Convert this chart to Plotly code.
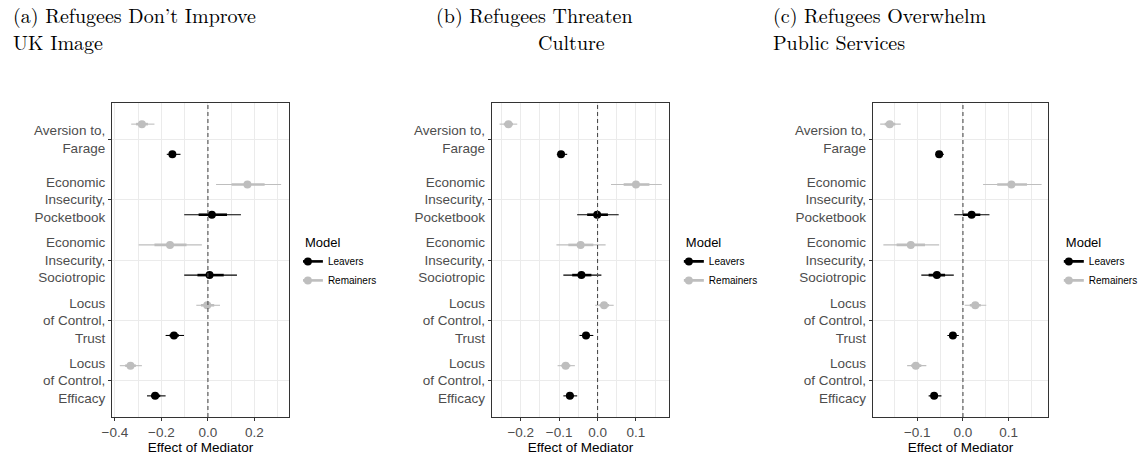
import plotly.graph_objects as go

# Mediator labels, top to bottom
categories = [
    "Aversion to,<br>Farage",
    "Economic<br>Insecurity,<br>Pocketbook",
    "Economic<br>Insecurity,<br>Sociotropic",
    "Locus<br>of Control,<br>Trust",
    "Locus<br>of Control,<br>Efficacy",
]
cat_pos = [5, 4, 3, 2, 1]

panel_titles = [
    ("(a) Refugees Don\u2019t Improve", "UK Image"),
    ("(b) Refugees Threaten", "Culture"),
    ("(c) Refugees Overwhelm", "Public Services"),
]

# (a) Refugees Don't Improve UK Image
leave_est_a = [-0.153, 0.017, 0.007, -0.146, -0.227]
leave_lo95_a = [-0.177, -0.102, -0.102, -0.182, -0.262]
leave_hi95_a = [-0.118, 0.142, 0.125, -0.103, -0.182]
leave_lo68_a = [-0.165, -0.040, -0.045, -0.165, -0.245]
leave_hi68_a = [-0.140, 0.082, 0.068, -0.125, -0.205]
remain_est_a = [-0.284, 0.170, -0.163, -0.003, -0.333]
remain_lo95_a = [-0.330, 0.035, -0.298, -0.050, -0.379]
remain_hi95_a = [-0.230, 0.315, -0.026, 0.052, -0.284]
remain_lo68_a = [-0.309, 0.102, -0.230, -0.030, -0.356]
remain_hi68_a = [-0.258, 0.244, -0.092, 0.027, -0.310]

# (b) Refugees Threaten Culture
leave_est_b = [-0.095, -0.001, -0.042, -0.030, -0.072]
leave_lo95_b = [-0.106, -0.053, -0.089, -0.047, -0.089]
leave_hi95_b = [-0.079, 0.055, 0.010, -0.011, -0.053]
leave_lo68_b = [-0.101, -0.027, -0.066, -0.039, -0.081]
leave_hi68_b = [-0.087, 0.027, -0.016, -0.021, -0.062]
remain_est_b = [-0.232, 0.100, -0.044, 0.017, -0.083]
remain_lo95_b = [-0.255, 0.035, -0.107, -0.006, -0.104]
remain_hi95_b = [-0.209, 0.167, 0.021, 0.042, -0.059]
remain_lo68_b = [-0.244, 0.068, -0.076, 0.005, -0.094]
remain_hi68_b = [-0.220, 0.135, -0.011, 0.030, -0.071]

# (c) Refugees Overwhelm Public Services
leave_est_c = [-0.052, 0.019, -0.057, -0.022, -0.063]
leave_lo95_c = [-0.060, -0.019, -0.091, -0.034, -0.075]
leave_hi95_c = [-0.042, 0.058, -0.020, -0.009, -0.047]
leave_lo68_c = [-0.056, 0.000, -0.075, -0.028, -0.069]
leave_hi68_c = [-0.047, 0.038, -0.039, -0.015, -0.055]
remain_est_c = [-0.160, 0.106, -0.114, 0.027, -0.103]
remain_lo95_c = [-0.181, 0.044, -0.174, 0.004, -0.122]
remain_hi95_c = [-0.136, 0.172, -0.052, 0.051, -0.080]
remain_lo68_c = [-0.171, 0.075, -0.145, 0.015, -0.113]
remain_hi68_c = [-0.148, 0.140, -0.083, 0.039, -0.091]

x_ranges = [[-0.413, 0.349], [-0.275, 0.186], [-0.197, 0.186]]
x_major = [0.2, 0.1, 0.1]
x_minor = [0.1, 0.05, 0.05]

models = ["Leavers", "Remainers"]
model_colors = {"Leavers": "#000000", "Remainers": "#BEBEBE"}
model_offset = {"Leavers": -0.25, "Remainers": 0.25}

panels = [
    {
        "Leavers": (leave_est_a, leave_lo95_a, leave_hi95_a, leave_lo68_a, leave_hi68_a),
        "Remainers": (remain_est_a, remain_lo95_a, remain_hi95_a, remain_lo68_a, remain_hi68_a),
    },
    {
        "Leavers": (leave_est_b, leave_lo95_b, leave_hi95_b, leave_lo68_b, leave_hi68_b),
        "Remainers": (remain_est_b, remain_lo95_b, remain_hi95_b, remain_lo68_b, remain_hi68_b),
    },
    {
        "Leavers": (leave_est_c, leave_lo95_c, leave_hi95_c, leave_lo68_c, leave_hi68_c),
        "Remainers": (remain_est_c, remain_lo95_c, remain_hi95_c, remain_lo68_c, remain_hi68_c),
    },
]

W, H = 1143, 455
SANS = "Liberation Sans, Arial, sans-serif"
SERIF = "Latin Modern Roman, CMU Serif, Liberation Serif, serif"

# plot areas in pixels: (left, right), shared top/bottom
panel_px = [(103, 282), (487, 666), (872, 1049)]
top_px, bottom_px = 103, 417
legend_px = [298, 683, 1067]
title_px = [(2, 2), (430, 533), (770, 770)]
title_rows = (15, 41)


def px_x(v):
    return v / W


def px_y(v):
    return 1 - v / H


def segments(lo, hi, ys):
    xs, yy = [], []
    for a, b, y in zip(lo, hi, ys):
        xs += [a, b, None]
        yy += [y, y, None]
    return xs, yy


fig = go.Figure()

for i, pdata in enumerate(panels):
    ax = "" if i == 0 else str(i + 1)
    xref, yref = "x" + ax, "y" + ax
    for m in ["Remainers", "Leavers"]:
        est, lo95, hi95, lo68, hi68 = pdata[m]
        ys = [p + model_offset[m] for p in cat_pos]
        col = model_colors[m]
        sx, sy = segments(lo95, hi95, ys)
        fig.add_trace(go.Scatter(x=sx, y=sy, mode="lines", xaxis=xref, yaxis=yref,
                                 line=dict(color=col, width=1.1), showlegend=False,
                                 hoverinfo="skip"))
        tx, ty = segments(lo68, hi68, ys)
        fig.add_trace(go.Scatter(x=tx, y=ty, mode="lines", xaxis=xref, yaxis=yref,
                                 line=dict(color=col, width=2.6), showlegend=False,
                                 hoverinfo="skip"))
        fig.add_trace(go.Scatter(x=est, y=ys, mode="markers", xaxis=xref, yaxis=yref,
                                 marker=dict(color=col, size=8, line=dict(width=0)),
                                 showlegend=False, name=m))
    # legend keys for this panel
    for m in models:
        fig.add_trace(go.Scatter(x=[None], y=[None], mode="lines+markers", name=m,
                                 xaxis=xref, yaxis=yref,
                                 line=dict(color=model_colors[m], width=2.6),
                                 marker=dict(color=model_colors[m], size=8),
                                 legend="legend" + ("" if i == 0 else str(i + 1)),
                                 showlegend=True))

    # zero reference line
    fig.add_shape(type="line", xref=xref, yref=yref + " domain", x0=0, x1=0, y0=0, y1=1,
                  line=dict(color="#4D4D4D", width=1.1, dash="4px,3px"), layer="above")

    left, right = panel_px[i]
    fig.update_layout(**{
        "xaxis" + ax: dict(
            domain=[px_x(left), px_x(right)], range=x_ranges[i], anchor=yref,
            dtick=x_major[i], tick0=0, tickformat=".1f",
            showgrid=True, gridcolor="#EBEBEB", gridwidth=1.1,
            minor=dict(dtick=x_minor[i], tick0=0, showgrid=True, gridcolor="#EBEBEB",
                       gridwidth=0.6),
            zeroline=False, showline=True, mirror=True, linecolor="#333333", linewidth=1.1,
            ticks="outside", ticklen=3, tickcolor="#333333", tickwidth=1,
            tickfont=dict(family=SANS, size=13.5, color="#4D4D4D"),
            title=dict(text="Effect of Mediator", standoff=0,
                       font=dict(family=SANS, size=13.5, color="#000000")),
        ),
        "yaxis" + ax: dict(
            domain=[1 - bottom_px / H, 1 - top_px / H], range=[0.4, 5.6], anchor=xref,
            tickmode="array", tickvals=cat_pos, ticktext=categories,
            showgrid=True, gridcolor="#EBEBEB", gridwidth=1.1, zeroline=False,
            showline=True, mirror=True, linecolor="#333333", linewidth=1.1,
            ticks="outside", ticklen=3, tickcolor="#333333", tickwidth=1,
            tickfont=dict(family=SANS, size=13.5, color="#4D4D4D"),
        ),
        "legend" + ("" if i == 0 else str(i + 1)): dict(
            x=px_x(legend_px[i] - 2), y=px_y(230), xanchor="left", yanchor="top",
            title=dict(text="Model", font=dict(family=SANS, size=13, color="#000000")),
            font=dict(family=SANS, size=10, color="#000000"),
            bgcolor="rgba(0,0,0,0)", itemwidth=30, indentation=-15,
            tracegroupgap=0,
        ),
    })

    # two-line panel caption
    l1, l2 = panel_titles[i]
    x1, x2 = title_px[i]
    for txt, xpos, ypos in ((l1, x1, title_rows[0]), (l2, x2, title_rows[1])):
        fig.add_annotation(text=txt, xref="paper", yref="paper", x=px_x(xpos), y=px_y(ypos),
                           xanchor="left", yanchor="middle", showarrow=False, borderpad=0,
                           font=dict(family=SERIF, size=20, color="#000000"))

fig.update_layout(
    width=W, height=H, margin=dict(l=0, r=0, t=0, b=0),
    paper_bgcolor="#FFFFFF", plot_bgcolor="#FFFFFF",
    font=dict(family=SANS),
)

fig.write_html("out.html")
